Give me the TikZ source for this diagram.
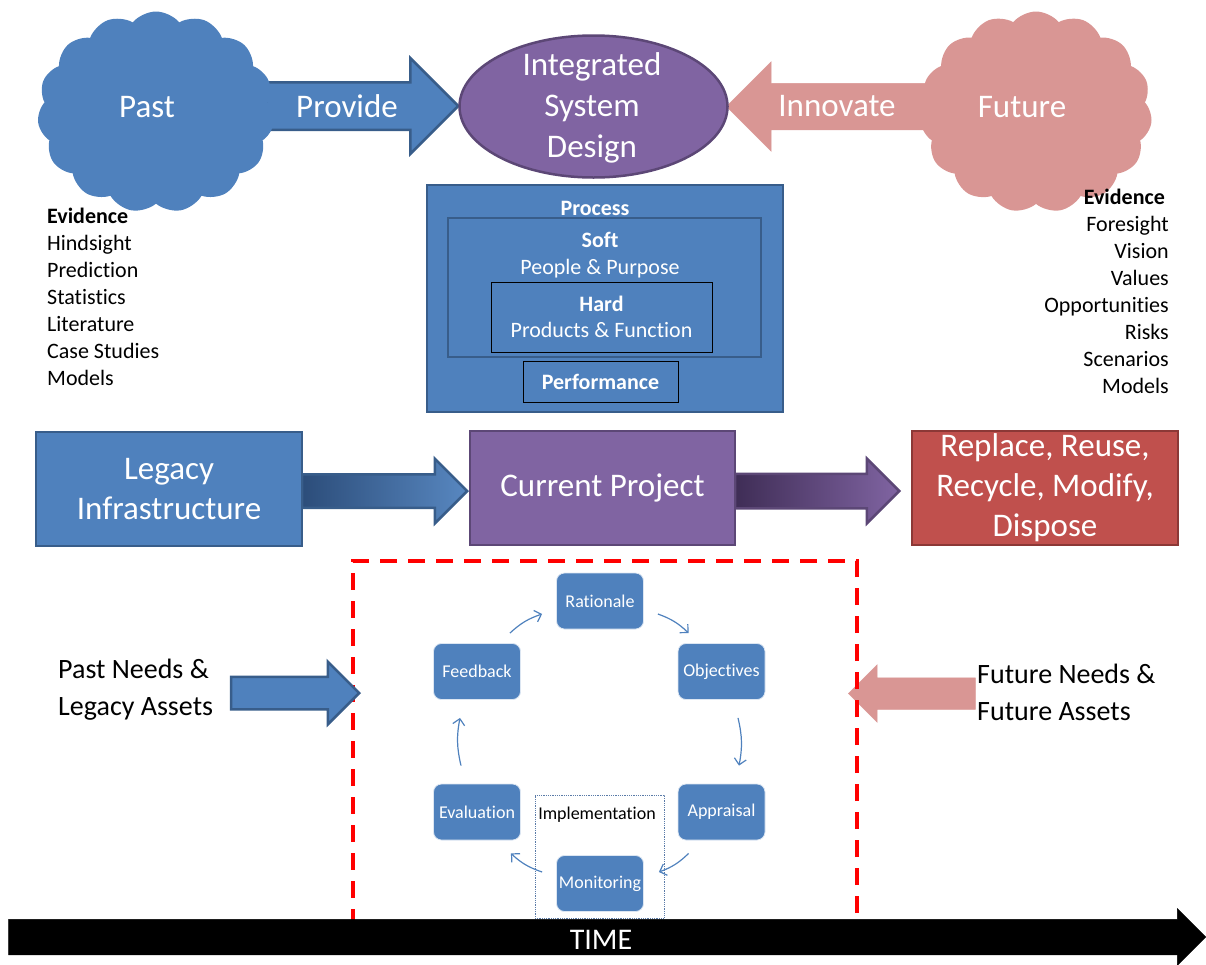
\documentclass[tikz,border=0pt]{standalone}
\usepackage{fontspec}
\setmainfont{Carlito}[Ligatures=NoCommon]
\usetikzlibrary{shapes.geometric,shapes.symbols,shapes.arrows,arrows.meta}

\definecolor{blueFill}{HTML}{4F81BD}
\definecolor{blueLine}{HTML}{385D8A}
\definecolor{blueDark}{HTML}{2C4D7A}
\definecolor{purpleFill}{HTML}{8064A2}
\definecolor{purpleLine}{HTML}{5C4776}
\definecolor{purpleDark}{HTML}{3F2D56}
\definecolor{redFill}{HTML}{C0504D}
\definecolor{redLine}{HTML}{8C3836}
\definecolor{pinkFill}{HTML}{D99694}
\definecolor{dotLine}{HTML}{5A7BA8}

\begin{document}
\begin{tikzpicture}[x=1pt,y=-1pt,
    bigtxt/.style={text=white,font=\fontsize{33}{41}\selectfont,align=center,inner sep=0},
    midtxt/.style={font=\fontsize{22}{27}\selectfont,inner sep=0},
    sidetxt/.style={font=\fontsize{28}{37}\selectfont,align=left,inner sep=0},
    blockarrow/.style={single arrow,single arrow tip angle=90,inner xsep=0,line width=2.5pt,anchor=tip},
    bluebox/.style={rectangle,draw=blueLine,fill=blueFill,line width=2.5pt},
    thinbox/.style={rectangle,draw=black,line width=0.9pt},
    puffy/.style={cloud,cloud puffs=15,cloud puff arc=100,cloud ignores aspect},
    stage/.style={rectangle,rounded corners=8pt,fill=blueFill,draw=white!80!blueFill,line width=0.8pt,
      minimum width=87pt,minimum height=56pt,inner sep=0,text=white,font=\fontsize{18}{20}\selectfont},
    cyc/.style={draw=blueFill,line width=1.2pt,-{Straight Barb[length=6pt,width=12pt]}}]
  \useasboundingbox (0,0) rectangle (1206,964);

  % top row
  \node[blockarrow,fill=blueFill,draw=blueLine,minimum height=192pt,inner ysep=22.5pt,
    single arrow head extend=24pt] (provide) at (460,106) {};
  \node[blockarrow,fill=pinkFill,draw=pinkFill,line width=0.5pt,shape border rotate=180,
    minimum height=219pt,inner ysep=23pt,single arrow head extend=21.5pt] (innovate) at (726,106.5) {};
  \node[puffy,fill=blueFill,minimum width=237pt,minimum height=201pt] (pastcloud) at (156,112) {};
  \node[puffy,fill=pinkFill,minimum width=232pt,minimum height=201pt] (futurecloud) at (1036,112) {};
  \node[ellipse,fill=purpleFill,draw=purpleLine,line width=2.5pt,
    minimum width=268pt,minimum height=142pt] (isd) at (593.5,106.5) {};
  \node[bigtxt] (past) at (147,107) {Past};
  \node[bigtxt] (future) at (1022,107) {Future};
  \node[bigtxt] (providetxt) at (347,106) {Provide};
  \node[bigtxt] (innovatetxt) at (837,106) {Innovate};
  \node[bigtxt] (isdtxt) at (592,108) {Integrated\\System\\Design};

  \node[midtxt,align=left,anchor=north west] (pastev) at (47,208)
    {\textbf{Evidence}\\Hindsight\\Prediction\\Statistics\\Literature\\Case Studies\\Models};
  \node[midtxt,align=right,anchor=north east] (futureev) at (1169,189)
    {\textbf{Evidence}\hspace*{4pt}\\Foresight\\Vision\\Values\\Opportunities\\Risks\\Scenarios\\Models};

  % process box
  \node[bluebox,minimum width=356pt,minimum height=227pt] (process) at (605,298.5) {};
  \node[bluebox,minimum width=313pt,minimum height=139pt] (soft) at (604.5,287.5) {};
  \node[thinbox,minimum width=221pt,minimum height=70pt,text=white,font=\fontsize{22}{26}\selectfont,
    align=center,inner sep=0] (hard) at (601.5,317) {\textbf{Hard}\\Products \& Function};
  \node[thinbox,minimum width=155pt,minimum height=41pt,text=white,font=\fontsize{22}{26}\selectfont\bfseries,
    inner sep=0] (perf) at (600.5,381.5) {Performance};
  \node[midtxt,text=white,font=\fontsize{22}{27}\selectfont\bfseries] (processtxt) at (595,208) {Process};
  \node[midtxt,text=white,align=center] (softtxt) at (600,255) {\textbf{Soft}\\People \& Purpose};

  % project row
  \node[blockarrow,left color=blueDark,right color=blueFill!95!white,draw=blueLine,
    minimum height=165pt,inner ysep=15.5pt,single arrow head extend=15.5pt] (toproj) at (469,491) {};
  \node[blockarrow,left color=purpleDark,right color=purpleFill,draw=purpleLine,
    minimum height=164pt,inner ysep=16pt,single arrow head extend=15pt] (toend) at (901,491) {};
  \node[bluebox,minimum width=266pt,minimum height=114pt,text=white,
    font=\fontsize{33}{40}\selectfont,align=center,inner sep=0] (legacy) at (169,489) {Legacy\\Infrastructure};
  \node[rectangle,draw=purpleLine,fill=purpleFill,line width=2.5pt,minimum width=265pt,minimum height=114pt,
    text=white,font=\fontsize{33}{40}\selectfont,inner sep=0] (project) at (602.5,488) {Current Project};
  \node[rectangle,draw=redLine,fill=redFill,line width=2.5pt,minimum width=266pt,minimum height=114pt,
    text=white,font=\fontsize{33}{40}\selectfont,align=center,inner sep=0] (endlife) at (1045,488)
    {Replace, Reuse,\\Recycle, Modify,\\Dispose};

  % project cycle
  \node[blockarrow,fill=pinkFill,draw=pinkFill,line width=0.5pt,shape border rotate=180,
    minimum height=127pt,inner ysep=15.5pt,single arrow head extend=13pt] (futurein) at (848,693.5) {};
  \node[draw=red,line width=3.5pt,dash pattern=on 17pt off 11pt,minimum width=504pt,minimum height=380pt]
    (window) at (605,751) {};
  \node[blockarrow,fill=blueFill,draw=blueLine,minimum height=128pt,inner ysep=15pt,
    single arrow head extend=15pt] (pastin) at (361,693) {};
  \node[sidetxt,anchor=west] (pastneeds) at (58,690) {Past Needs \&\\Legacy Assets};
  \node[sidetxt,anchor=west] (futureneeds) at (977,692) {Future Needs \&\\Future Assets};

  \node[draw=dotLine,densely dotted,line width=0.8pt,minimum width=129pt,minimum height=123pt]
    (impl) at (599.5,856.5) {};
  \node[font=\fontsize{18}{20}\selectfont,inner sep=0] (impltxt) at (597,815) {Implementation};

  \node[stage] (rationale) at (600,601) {Rationale};
  \node[stage] (objectives) at (721.5,671.5) {Objectives};
  \node[stage] (appraisal) at (721.5,812) {Appraisal};
  \node[stage] (monitoring) at (600,883.5) {Monitoring};
  \node[stage] (evaluation) at (477,812) {Evaluation};
  \node[stage] (feedback) at (477,671.5) {Feedback};

  \draw[cyc] ([shift={(-11,-10)}]feedback.north east) to[bend left=12] ([shift={(-14,13)}]rationale.west);
  \draw[cyc] ([shift={(14,13)}]rationale.east) to[bend left=12] ([shift={(11,-10)}]objectives.north west);
  \draw[cyc] ([shift={(16.5,18)}]objectives.south) to[bend left=12] ([shift={(17.5,-18)}]appraisal.north);
  \draw[cyc] ([shift={(11,13)}]appraisal.south west) to[bend left=12] ([shift={(15,-11.5)}]monitoring.east);
  \draw[cyc] ([shift={(-14,-11.5)}]monitoring.west) to[bend left=12] ([shift={(-10,13)}]evaluation.south east);
  \draw[cyc] ([shift={(-16,-18)}]evaluation.north) to[bend left=12] ([shift={(-17,18)}]feedback.south);

  % time line
  \node[blockarrow,fill=black,draw=black,line width=0.5pt,minimum height=1197pt,inner ysep=17.5pt,
    single arrow head extend=10.5pt] (time) at (1206,937) {};
  \node[bigtxt,font=\fontsize{30}{36}\selectfont] (timetxt) at (601,940) {TIME};
\end{tikzpicture}
\end{document}
